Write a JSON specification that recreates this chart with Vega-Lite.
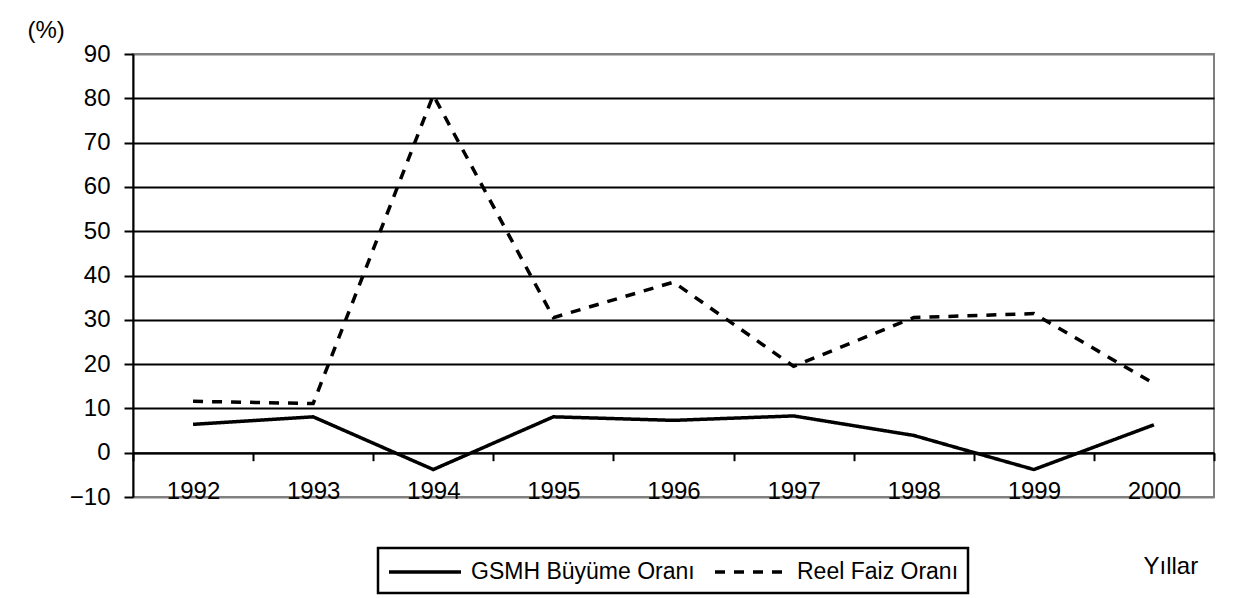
{
  "$schema": "https://vega.github.io/schema/vega-lite/v6.json",
  "autosize": {"type": "none"},
  "width": 1081,
  "height": 443,
  "padding": {"left": 133, "top": 54, "right": 23, "bottom": 101},
  "background": "white",
  "config": {
    "font": "Liberation Sans",
    "view": {"stroke": "#808080", "strokeWidth": 2},
    "legend": {"strokeWidth": 2.5}
  },
  "data": {
    "values": [
      {"year": "1992", "series": "GSMH Büyüme Oranı", "value": 6.4},
      {"year": "1993", "series": "GSMH Büyüme Oranı", "value": 8.1},
      {"year": "1994", "series": "GSMH Büyüme Oranı", "value": -3.8},
      {"year": "1995", "series": "GSMH Büyüme Oranı", "value": 8.1},
      {"year": "1996", "series": "GSMH Büyüme Oranı", "value": 7.3},
      {"year": "1997", "series": "GSMH Büyüme Oranı", "value": 8.3},
      {"year": "1998", "series": "GSMH Büyüme Oranı", "value": 3.9},
      {"year": "1999", "series": "GSMH Büyüme Oranı", "value": -3.8},
      {"year": "2000", "series": "GSMH Büyüme Oranı", "value": 6.3},
      {"year": "1992", "series": "Reel Faiz Oranı", "value": 11.6},
      {"year": "1993", "series": "Reel Faiz Oranı", "value": 11.1},
      {"year": "1994", "series": "Reel Faiz Oranı", "value": 80.7},
      {"year": "1995", "series": "Reel Faiz Oranı", "value": 30.5},
      {"year": "1996", "series": "Reel Faiz Oranı", "value": 38.5},
      {"year": "1997", "series": "Reel Faiz Oranı", "value": 19.5},
      {"year": "1998", "series": "Reel Faiz Oranı", "value": 30.5},
      {"year": "1999", "series": "Reel Faiz Oranı", "value": 31.4},
      {"year": "2000", "series": "Reel Faiz Oranı", "value": 15.6}
    ]
  },
  "mark": {"type": "line", "strokeWidth": 3.5, "color": "black"},
  "encoding": {
    "x": {
      "field": "year",
      "type": "ordinal",
      "bandPosition": 0.5,
      "scale": {"type": "band", "paddingInner": 0, "paddingOuter": 0},
      "axis": {
        "title": "Yıllar",
        "titleFontSize": 24,
        "titleFontWeight": "normal",
        "titleColor": "black",
        "titleAlign": "left",
        "titleBaseline": "middle",
        "titleX": 1010,
        "titleY": 114,
        "titleAnchor": null,
        "offset": -44.3,
        "labelAngle": 0,
        "labelFontSize": 24,
        "labelColor": "black",
        "labelBaseline": "top",
        "labelPadding": 19,
        "tickBand": "extent",
        "tickSize": 8,
        "tickWidth": 2,
        "tickColor": "black",
        "domainColor": "black",
        "domainWidth": 2,
        "grid": false
      }
    },
    "y": {
      "field": "value",
      "type": "quantitative",
      "scale": {"domain": [-10, 90], "nice": false, "zero": false},
      "axis": {
        "values": [-10, 0, 10, 20, 30, 40, 50, 60, 70, 80, 90],
        "title": "(%)",
        "titleAngle": 0,
        "titleFontSize": 24,
        "titleFontWeight": "normal",
        "titleColor": "black",
        "titleAlign": "left",
        "titleBaseline": "middle",
        "titleX": -106,
        "titleY": -24,
        "titleAnchor": null,
        "labelFontSize": 24,
        "labelColor": "black",
        "labelPadding": 14,
        "tickSize": 9,
        "tickWidth": 2,
        "tickColor": "black",
        "domainColor": "black",
        "domainWidth": 2,
        "grid": true,
        "gridColor": {"condition": {"test": "datum.value === 90 || datum.value === -10", "value": "#808080"}, "value": "black"},
        "gridWidth": 2,
        "gridOpacity": 1
      }
    },
    "strokeDash": {
      "field": "series",
      "type": "nominal",
      "scale": {"domain": ["GSMH Büyüme Oranı", "Reel Faiz Oranı"], "range": [[1, 0], [10, 9]]},
      "legend": {
        "title": null,
        "orient": "none",
        "legendX": 245,
        "legendY": 494,
        "direction": "horizontal",
        "columns": 2,
        "strokeColor": "black",
        "padding": 9,
        "symbolType": "M-1,0H4.538",
        "symbolSize": 676,
        "symbolStrokeWidth": 3.5,
        "symbolStrokeColor": "black",
        "labelFontSize": 23,
        "labelColor": "black",
        "labelOffset": 54,
        "columnPadding": 13,
        "labelLimit": 400
      }
    }
  }
}
